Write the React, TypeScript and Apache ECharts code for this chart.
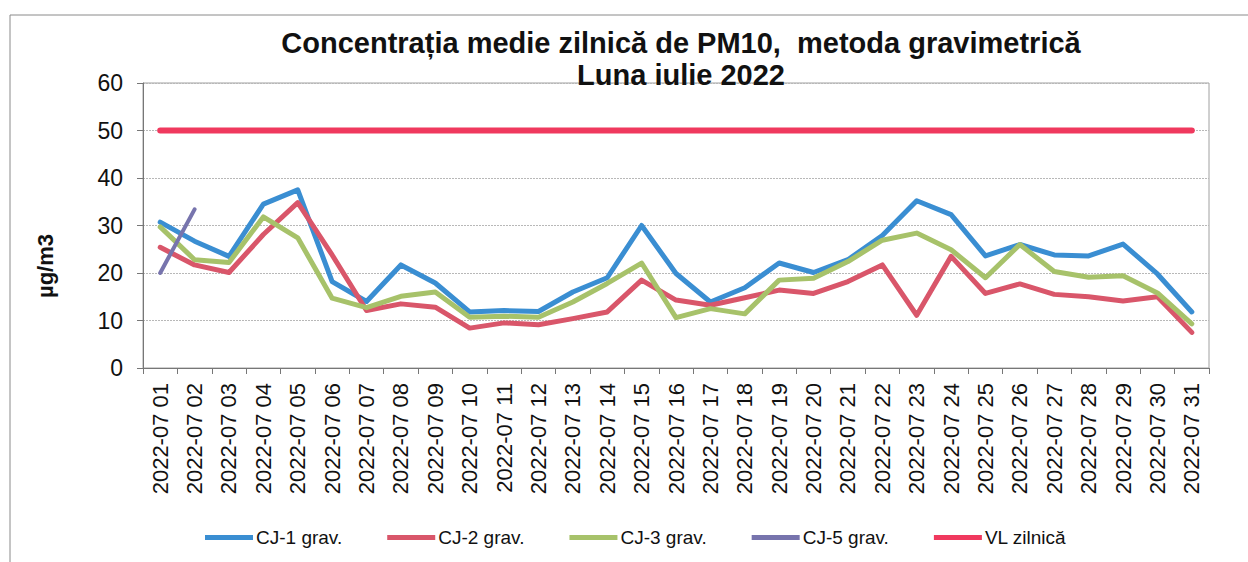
import React, { useEffect, useRef } from "react";
import * as echarts from "echarts";

const categories = [
  "2022-07 01", "2022-07 02", "2022-07 03", "2022-07 04", "2022-07 05", "2022-07 06",
  "2022-07 07", "2022-07 08", "2022-07 09", "2022-07 10", "2022-07 11", "2022-07 12",
  "2022-07 13", "2022-07 14", "2022-07 15", "2022-07 16", "2022-07 17", "2022-07 18",
  "2022-07 19", "2022-07 20", "2022-07 21", "2022-07 22", "2022-07 23", "2022-07 24",
  "2022-07 25", "2022-07 26", "2022-07 27", "2022-07 28", "2022-07 29", "2022-07 30",
  "2022-07 31",
];

const cj1 = [30.7, 26.7, 23.5, 34.5, 37.5, 18.2, 14.0, 21.7, 17.9, 11.8, 12.1, 11.9, 16.0, 19.0, 30.0, 19.9, 13.9, 16.9, 22.1, 20.1, 22.8, 27.9, 35.2, 32.3, 23.6, 26.0, 23.8, 23.6, 26.1, 19.8, 11.8];
const cj2 = [25.4, 21.7, 20.1, 28.1, 34.8, 23.8, 12.1, 13.5, 12.8, 8.4, 9.5, 9.1, 10.4, 11.8, 18.5, 14.3, 13.2, 14.8, 16.4, 15.7, 18.2, 21.7, 11.1, 23.5, 15.7, 17.7, 15.5, 15.0, 14.1, 15.0, 7.5];
const cj3 = [29.7, 22.8, 22.2, 31.8, 27.4, 14.7, 12.7, 15.1, 16.0, 10.7, 10.9, 10.7, 13.9, 17.8, 22.1, 10.6, 12.5, 11.4, 18.5, 18.9, 22.4, 26.9, 28.4, 24.9, 19.0, 26.0, 20.3, 19.1, 19.4, 15.8, 9.3];
const cj5 = [20.0, 33.4];
const vlZilnica = [50, 50, 50, 50, 50, 50, 50, 50, 50, 50, 50, 50, 50, 50, 50, 50, 50, 50, 50, 50, 50, 50, 50, 50, 50, 50, 50, 50, 50, 50, 50];

const yTicks = { min: 0, max: 60, interval: 10 };

const FONT = "'Liberation Sans', Arial, sans-serif";

export default function App() {
  const ref = useRef<HTMLDivElement>(null);

  useEffect(() => {
    document.body.style.margin = "0";
    const chart = echarts.init(ref.current!, null, { renderer: "svg" });
    const lineSeries = (name: string, data: (number | null)[], color: string, width = 5) => ({
      name,
      type: "line",
      data,
      symbol: "none",
      showSymbol: false,
      lineStyle: { color, width, cap: "round", join: "round" },
      itemStyle: { color },
      emphasis: { disabled: true },
    });
    chart.setOption({
      animation: false,
      backgroundColor: "#ffffff",
      textStyle: { fontFamily: FONT },
      title: {
        text: "Concentrația medie zilnică de PM10,  metoda gravimetrică\nLuna iulie 2022",
        left: 676,
        top: 22,
        textAlign: "center",
        textStyle: {
          fontFamily: FONT,
          fontSize: 29,
          fontWeight: "bold",
          color: "#111",
          lineHeight: 32,
        },
      },
      graphic: [
        {
          type: "rect",
          shape: { x: 10, y: 15, width: 1300, height: 600 },
          style: { fill: "none", stroke: "#8a8a8a", lineWidth: 1 },
          silent: true,
          z: -1,
        },
        {
          type: "text",
          x: 45,
          y: 266,
          rotation: Math.PI / 2,
          style: {
            text: "µg/m3",
            fontFamily: FONT,
            fontSize: 22,
            fontWeight: "bold",
            fill: "#111",
            align: "center",
            verticalAlign: "middle",
          },
        },
      ],
      legend: {
        top: 523,
        left: 200,
        itemWidth: 48,
        itemHeight: 5,
        itemGap: 45,
        icon: "rect",
        textStyle: { fontFamily: FONT, fontSize: 19, color: "#111", padding: [0, 0, 0, -2] },
        data: ["CJ-1 grav.", "CJ-2 grav.", "CJ-3 grav.", "CJ-5 grav.", "VL zilnică"],
      },
      grid: {
        left: 143,
        right: 39,
        top: 83,
        bottom: 194,
        show: true,
        borderColor: "#a0a0a0",
        borderWidth: 1,
      },
      xAxis: {
        type: "category",
        data: categories,
        boundaryGap: true,
        axisLine: { lineStyle: { color: "#777", width: 1 } },
        axisTick: { show: true, interval: 0, length: 6, lineStyle: { color: "#777" } },
        axisLabel: {
          interval: 0,
          rotate: 90,
          fontFamily: FONT,
          fontSize: 22,
          color: "#111",
          margin: 15,
        },
      },
      yAxis: {
        type: "value",
        min: yTicks.min,
        max: yTicks.max,
        interval: yTicks.interval,
        axisLine: { show: true, lineStyle: { color: "#777", width: 1 } },
        axisTick: { show: true, length: 6, lineStyle: { color: "#777" } },
        axisLabel: { fontFamily: FONT, fontSize: 23, color: "#111", margin: 20 },
        splitLine: { show: true, lineStyle: { color: "#b8b8b8", width: 1, type: [2, 1] } },
      },
      series: [
        lineSeries("CJ-1 grav.", cj1, "#3a8ed2"),
        lineSeries("CJ-2 grav.", cj2, "#d9566a"),
        lineSeries("CJ-3 grav.", cj3, "#a7c26a"),
        lineSeries("CJ-5 grav.", cj5, "#7774ad", 4),
        lineSeries("VL zilnică", vlZilnica, "#f0395e", 6),
      ],
    });
    return () => chart.dispose();
  }, []);

  return <div ref={ref} style={{ width: 1248, height: 562 }} />;
}
